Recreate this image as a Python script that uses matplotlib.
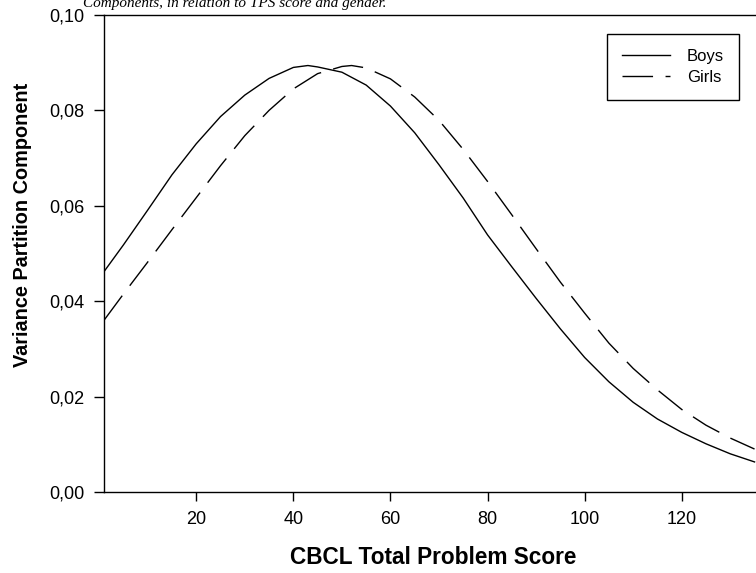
import matplotlib
matplotlib.use("Agg")
import matplotlib.pyplot as plt
from matplotlib.ticker import FuncFormatter

# ------------------------------------------------------------------
# data (variance partition vs CBCL score)
# ------------------------------------------------------------------
boys_x = [1, 5, 10, 15, 20, 25, 30, 35, 40, 43, 45, 50, 55, 60, 65, 70,
          75, 80, 85, 90, 95, 100, 105, 110, 115, 120, 125, 130, 135]
boys_y = [0.0462, 0.0518, 0.0591, 0.0665, 0.0730, 0.0787, 0.0832, 0.0867,
          0.0890, 0.0894, 0.0891, 0.0880, 0.0853, 0.0809, 0.0753, 0.0686,
          0.0616, 0.0539, 0.0472, 0.0406, 0.0342, 0.0282, 0.0231, 0.0188,
          0.0153, 0.0125, 0.0101, 0.0080, 0.0063]

girls_x = [1, 5, 10, 15, 20, 25, 30, 35, 40, 45, 50, 52, 55, 60, 65, 70,
           75, 80, 85, 90, 95, 100, 105, 110, 115, 120, 125, 130, 135]
girls_y = [0.0360, 0.0415, 0.0482, 0.0550, 0.0617, 0.0684, 0.0747, 0.0800,
           0.0845, 0.0877, 0.0892, 0.0894, 0.0889, 0.0866, 0.0828, 0.0779,
           0.0718, 0.0651, 0.0581, 0.0510, 0.0440, 0.0375, 0.0312, 0.0259,
           0.0214, 0.0173, 0.0140, 0.0113, 0.0090]

x_ticks = [20, 40, 60, 80, 100, 120]
y_ticks = [0.00, 0.02, 0.04, 0.06, 0.08, 0.10]

plt.rcParams["font.family"] = ["Liberation Sans", "DejaVu Sans"]

fig = plt.figure(figsize=(7.56, 5.73), dpi=100)
ax = fig.add_axes([0.1376, 0.1414, 0.8624, 0.8325])

ax.plot(boys_x, boys_y, color="black", lw=1.0, label="Boys")
ax.plot(girls_x, girls_y, color="black", lw=1.0, dashes=(22, 9), label="Girls")

ax.set_xlim(1, 135.3)
ax.set_ylim(0, 0.10)
ax.set_xticks(x_ticks)
ax.set_yticks(y_ticks)
ax.yaxis.set_major_formatter(FuncFormatter(lambda v, p: f"{v:.2f}".replace(".", ",")))

ax.tick_params(direction="out", length=6.5, width=1.0, labelsize=13, pad=7)
ax.tick_params(axis="y", length=7)
ax.spines["right"].set_visible(False)
for s in ("left", "bottom", "top"):
    ax.spines[s].set_linewidth(1.0)

ax.set_xlabel("CBCL Total Problem Score", fontsize=16.3, fontweight="bold")
ax.set_ylabel("Variance Partition Component", fontsize=14.3, fontweight="bold")
ax.xaxis.set_label_coords(0.505, -0.114)
ax.yaxis.set_label_coords(-0.1107, 0.56)

leg = ax.legend(loc="upper right", bbox_to_anchor=(0.9775, 0.9407),
                bbox_transform=fig.transFigure, borderaxespad=0,
                fontsize=12, fancybox=False, framealpha=1,
                edgecolor="black", handlelength=2.9, handletextpad=1.0,
                labelspacing=0.35, borderpad=0.9)
leg.get_frame().set_linewidth(1.0)

# caption of the source page, cut off at the top edge as in the scan
fig.text(83 / 756, 1 - 7 / 573,
         "Components, in relation to TPS score and gender.",
         family="Liberation Serif", style="italic", fontsize=11,
         va="baseline", ha="left")

fig.savefig("out.png", dpi=100)
